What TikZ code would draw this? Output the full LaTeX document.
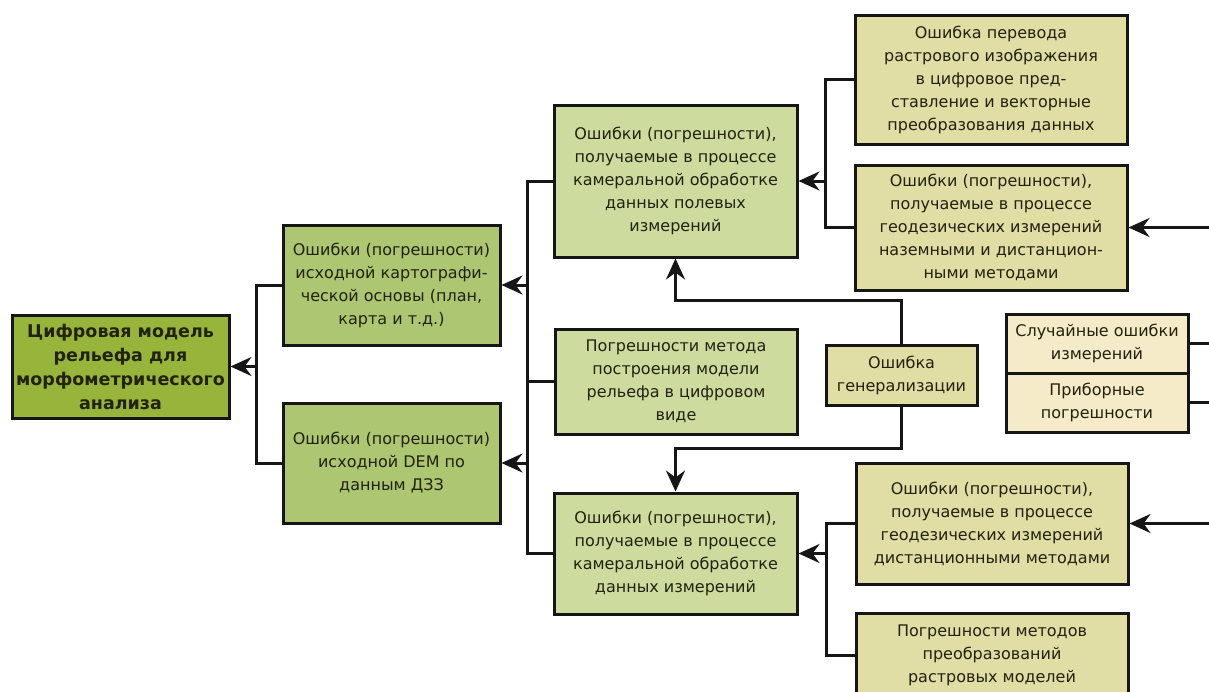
\documentclass[tikz,border=0pt]{standalone}
\usepackage{fontspec}
\setmainfont{DejaVu Sans}
\usetikzlibrary{arrows.meta}
\definecolor{linec}{HTML}{161616}
\definecolor{textc}{HTML}{22220F}
\definecolor{rootc}{HTML}{96B53A}
\definecolor{bc}{HTML}{ADC672}
\definecolor{cc}{HTML}{CDDC9E}
\definecolor{dc}{HTML}{E0DDA5}
\definecolor{sc}{HTML}{F5EBC8}
\begin{document}
\begin{tikzpicture}[x=1pt,y=-1pt,
  box/.style={draw=linec, line width=3pt, align=center, inner sep=0pt,
    font=\fontsize{16}{23}\selectfont, text=textc},
  conn/.style={draw=linec, line width=3pt},
  arr/.style={conn, -{Stealth[length=21pt,width=19pt,inset=7pt]}}]
\useasboundingbox[fill=white] (0,0) rectangle (1209,691);
\clip (0,0) rectangle (1209,691);
% nodes
\node[box, fill=rootc, minimum width=217pt, minimum height=103pt,
  font=\fontsize{17.5}{24}\selectfont\bfseries] (A) at (120.5,366.5)
  {Цифровая модель\\рельефа для\\морфометрического\\анализа};
\node[box, fill=bc, minimum width=217pt, minimum height=120pt] (B1) at (391.5,285)
  {Ошибки (погрешности)\\исходной картографи-\\ческой основы (план,\\карта и т.д.)};
\node[box, fill=bc, minimum width=217pt, minimum height=120pt] (B2) at (391.5,463)
  {Ошибки (погрешности)\\исходной DEM по\\данным ДЗЗ};
\node[box, fill=cc, minimum width=243pt, minimum height=152pt] (C1) at (675.5,181)
  {Ошибки (погрешности),\\получаемые в процессе\\камеральной обработке\\данных полевых\\измерений};
\node[box, fill=cc, minimum width=242pt, minimum height=105pt] (C2) at (676,381.5)
  {Погрешности метода\\построения модели\\рельефа в цифровом\\виде};
\node[box, fill=dc, minimum width=151pt, minimum height=60pt] (G) at (901.5,375)
  {Ошибка\\генерализации};
\node[box, fill=cc, minimum width=243pt, minimum height=121pt] (C3) at (675.5,553.5)
  {Ошибки (погрешности),\\получаемые в процессе\\камеральной обработке\\данных измерений};
\node[box, fill=dc, minimum width=272pt, minimum height=129pt] (D1) at (991,79.5)
  {Ошибка перевода\\растрового изображения\\в цифровое пред-\\ставление и векторные\\преобразования данных};
\node[box, fill=dc, minimum width=272pt, minimum height=125pt] (D2) at (991,227.5)
  {Ошибки (погрешности),\\получаемые в процессе\\геодезических измерений\\наземными и дистанцион-\\ными методами};
\node[box, fill=sc, minimum width=182pt, minimum height=59pt] (S1) at (1097,343.5)
  {Случайные ошибки\\измерений};
\node[box, fill=sc, minimum width=182pt, minimum height=59pt] (S2) at (1097,402.5)
  {Приборные\\погрешности};
\node[box, fill=dc, minimum width=272pt, minimum height=121pt] (D3) at (992,523.5)
  {Ошибки (погрешности),\\получаемые в процессе\\геодезических измерений\\дистанционными методами};
\node[box, fill=dc, minimum width=272pt, minimum height=84pt] (D4) at (992,655)
  {Погрешности методов\\преобразований\\растровых моделей};
% connectors
\coordinate (j1) at (256,366.5);
\draw[conn] (B1.west) -| (j1);
\draw[conn] (B2.west) -| (j1);
\draw[arr] (j1) -- (A.east);
\coordinate (j2) at (527,381.5);
\coordinate (j2a) at (527,285);
\coordinate (j2b) at (527,463);
\draw[conn] (C1.west) -| (j2);
\draw[conn] (C3.west) -| (j2);
\draw[conn] (C2.west) -- (j2);
\draw[arr] (j2a) -- (B1.east);
\draw[arr] (j2b) -- (B2.east);
\coordinate (j3) at (825,181);
\draw[conn] (D1.west) -| (j3);
\draw[conn] (D2.west) -| (j3);
\draw[arr] (j3) -- (C1.east);
\coordinate (g1) at (901.5,300);
\coordinate (g2) at (901.5,448);
\draw[arr] (G.north) -- (g1) -| (C1.south);
\draw[arr] (G.south) -- (g2) -| (C3.north);
\coordinate (j4) at (826,553.5);
\draw[conn] (D3.west) -| (j4);
\draw[conn] (D4.west) -| (j4);
\draw[arr] (j4) -- (C3.east);
\coordinate (r1) at (1209,227.5);
\coordinate (r2) at (1209,523.5);
\coordinate (r3) at (1209,343.5);
\coordinate (r4) at (1209,402.5);
\draw[arr] (r1) -- (D2.east);
\draw[arr] (r2) -- (D3.east);
\draw[conn] (S1.east) -- (r3);
\draw[conn] (S2.east) -- (r4);
\end{tikzpicture}
\end{document}
